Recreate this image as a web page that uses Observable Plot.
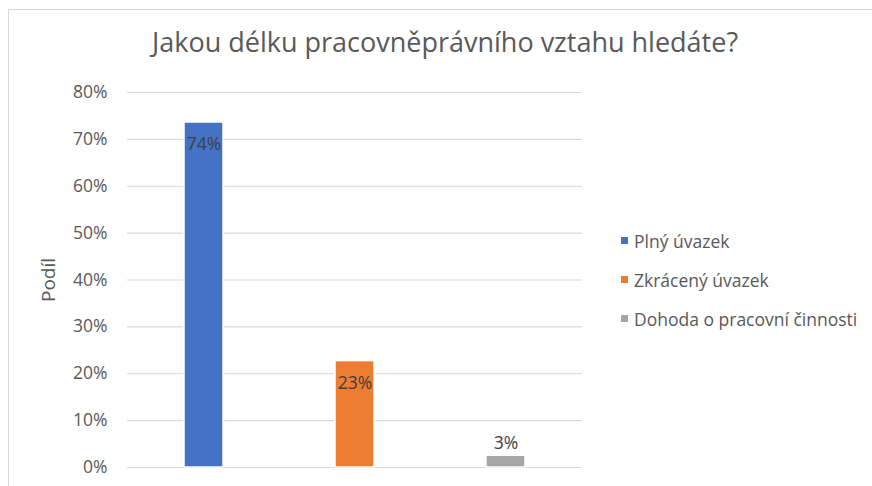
<!DOCTYPE html>
<html>
<head>
<meta charset="utf-8">
<script src="https://cdn.jsdelivr.net/npm/d3@7"></script>
<script src="https://cdn.jsdelivr.net/npm/@observablehq/plot@0.6"></script>
<style>
  html, body { margin: 0; padding: 0; background: #fff; }
  body { width: 872px; height: 486px; position: relative; overflow: hidden; font-family: "Open Sans", "Noto Sans", sans-serif; }
  #frame { position: absolute; left: 8px; top: 9px; width: 900px; height: 500px; border: 1px solid #d9d9d9; box-sizing: border-box; }
  #title { position: absolute; left: 0; width: 890px; top: 26px; text-align: center; font-size: 27px; color: #595959; white-space: nowrap; line-height: 1.2; }
  #chart { position: absolute; left: 0; top: 0; }
  #legend { position: absolute; left: 621px; top: 221px; font-size: 17.5px; color: #595959; }
  #legend .item { height: 39px; display: flex; align-items: center; white-space: nowrap; }
  #legend .sw { width: 7px; height: 7px; margin-right: 6px; }
</style>
</head>
<body>
<div id="frame"></div>
<div id="title">Jakou délku pracovněprávního vztahu hledáte?</div>
<div id="chart"></div>
<div id="legend"></div>
<script>
const categories = ["Plný úvazek", "Zkrácený úvazek", "Dohoda o pracovní činnosti"];
const values = [0.736, 0.227, 0.025];
const labels = ["74%", "23%", "3%"];
const colors = ["#4472c4", "#ed7d31", "#a5a5a5"];
const yTicks = [0, 0.1, 0.2, 0.3, 0.4, 0.5, 0.6, 0.7, 0.8];

const data = categories.map((c, i) => ({category: c, value: values[i], label: labels[i], color: colors[i]}));
const inside = data.filter(d => d.value > 0.1);
const outside = data.filter(d => d.value <= 0.1);

const chart = Plot.plot({
  width: 872,
  height: 486,
  marginLeft: 127,
  marginRight: 290,
  marginTop: 92,
  marginBottom: 19,
  style: {fontFamily: "'Open Sans', 'Noto Sans', sans-serif", fontSize: "17px", color: "#595959", background: "transparent", overflow: "visible"},
  x: {domain: categories, paddingInner: 0.74, paddingOuter: 0.37, axis: null},
  y: {domain: [0, 0.8], ticks: yTicks, tickFormat: d => Math.round(d * 100) + "%", label: null},
  marks: [
    Plot.ruleY(yTicks, {stroke: "#d9d9d9", strokeWidth: 1.2}),
    Plot.axisY({ticks: yTicks, tickFormat: d => Math.round(d * 100) + "%", tickSize: 0, tickPadding: 20, fontSize: 17.5, fill: "#595959"}),
    Plot.barY(data, {x: "category", y: "value", fill: "color", stroke: "white", strokeWidth: 1.5}),
    Plot.text(inside, {x: "category", y: "value", text: "label", dy: 22, fill: "#404040", fontSize: 17.5}),
    Plot.text(outside, {x: "category", y: "value", text: "label", dy: -12, fill: "#404040", fontSize: 17.5}),
    Plot.text(["Podíl"], {frameAnchor: "left", textAnchor: "middle", rotate: -90, dx: -79, fill: "#595959", fontSize: 19})
  ]
});
document.getElementById("chart").appendChild(chart);

const legend = document.getElementById("legend");
data.forEach(d => {
  const item = document.createElement("div");
  item.className = "item";
  const sw = document.createElement("span");
  sw.className = "sw";
  sw.style.background = d.color;
  const t = document.createElement("span");
  t.textContent = d.category;
  item.appendChild(sw);
  item.appendChild(t);
  legend.appendChild(item);
});
</script>
</body>
</html>
